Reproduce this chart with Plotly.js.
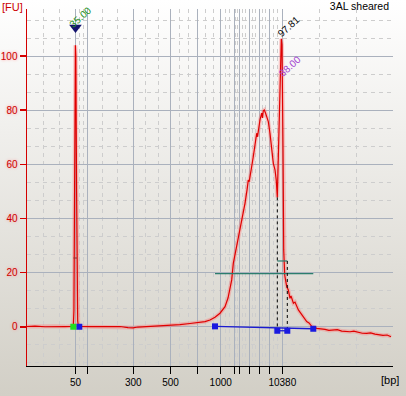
<!DOCTYPE html>
<html><head><meta charset="utf-8">
<script src="https://cdn.plot.ly/plotly-3.0.1.min.js"></script>
<style>
html,body{margin:0;padding:0;}
#chart{width:406px;height:396px;background:linear-gradient(#ffffff,#d2cfc6);}
</style></head><body><div id="chart"></div>
<script>
// Electropherogram signal: migration position (arbitrary time units) and fluorescence [FU]
const time = [0.00,2.19,4.92,7.65,10.38,12.30,12.65,12.82,12.98,13.11,13.22,13.35,13.55,13.70,13.76,13.85,14.00,14.21,
  17.21,19.95,22.68,25.41,27.60,28.96,30.33,33.61,36.34,39.07,41.80,44.54,47.27,48.63,50.00,51.37,52.73,54.10,54.92,
  55.46,55.93,56.37,56.83,57.30,57.73,58.20,58.93,59.29,59.56,60.11,60.46,60.70,60.93,61.39,61.83,62.30,62.76,62.98,
  63.20,63.66,64.13,64.34,64.56,64.84,65.16,65.49,65.93,66.39,66.86,67.30,67.76,68.10,68.39,68.60,68.93,69.13,69.32,
  69.48,69.67,69.86,69.95,70.14,70.41,70.96,71.40,71.86,72.13,72.79,73.22,74.15,74.59,75.05,75.68,76.42,77.05,77.79,
  79.15,80.30,81.42,82.50,83.69,84.80,85.98,87.10,88.25,89.30,90.44,91.60,92.81,93.90,95.08,96.20,97.27,98.40,99.45];
const fu = [0.1,0.2,0.0,0.15,0.05,0.1,0.3,6.0,47,78,104,100,50,10,5.8,2.2,0.5,0.1,
  0.05,0.1,0.0,0.1,-0.3,-0.4,-0.1,0.1,0.25,0.45,0.8,1.2,1.55,1.9,2.5,3.5,5.0,7.4,10.6,
  13.6,17.3,23.4,26.5,29.6,32.8,35.8,41.9,43.9,45.6,50.5,54.2,53.6,56.1,59.2,62.9,66.6,71.5,70.2,
  72.8,76.4,78.9,77.2,79.8,80.1,79.0,77.7,75.8,71.5,66.6,60.4,58.0,54.2,47.8,60.0,78.9,87.5,98.6,
  106.4,104.2,83.8,65.4,28.4,19.1,14.8,13.6,10.5,11.4,8.7,9.1,6.2,5.4,4.3,3.6,1.9,1.4,0.15,
  -0.6,-0.7,-1.0,-1.35,-1.2,-1.1,-1.6,-1.85,-1.85,-1.65,-2.1,-2.4,-2.45,-2.25,-2.7,-3.0,-3.2,-3.05,-3.7];

// bp ladder ticks
const tickPos = [13.25,16.45,29.04,39.21,46.64,52.92,56.64,58.01,60.74,63.47,66.20,69.75];
const tickLabels = ['50','','300','500','','1000','','','','','','10380'];

// Smear region and peak marks
const regionX = [51.37,78.22];
const regionY = [0.15,-0.74];
const peakMarkX = [68.39,71.12];
const peakMarkY = [-1.48,-1.48];
const peakTopY = [47.8,24.3];
const thresholdX = [51.37,78.22];
const thresholdY = [19.6,19.6];
const lowerMarkerX = [12.65,14.29];
const lowerMarkerY = [0,0];
const lowerHalfX = [12.70,13.66];
const lowerHalfY = [25.4,25.4];
const upperHalfX = [68.39,71.12];
const upperHalfY = [24.3,24.3];
const triangleX = [13.25];
const triangleY = [110.6];

const peakLabels = ['35.00','97.81','88.00'];
const peakLabelX = [14.48,71.5,71.67];
const peakLabelY = [114.2,110.9,96.3];
const peakLabelColors = ['#239023','#000000','#a040d0'];

// layout helpers (grid thirds between ticks)
const edges = [0].concat(tickPos, [100]);
const minorVals = [];
for (let i = 0; i < edges.length - 1; i++) {
  const d = (edges[i+1] - edges[i]) / 3;
  minorVals.push(edges[i] + d, edges[i] + 2*d);
}

const FONT = 'Liberation Sans, Arial, sans-serif';

const traces = [
  {x: time, y: fu, mode: 'lines', line: {color: 'rgba(255,110,110,0.35)', width: 4}, hoverinfo: 'skip'},
  {x: time, y: fu, mode: 'lines', line: {color: '#e00000', width: 1.2}, hoverinfo: 'skip'},
  {x: thresholdX, y: thresholdY, mode: 'lines', line: {color: '#2b7d6d', width: 1.2}},
  {x: lowerHalfX, y: lowerHalfY, mode: 'lines', line: {color: '#8a3030', width: 1}},
  {x: upperHalfX, y: upperHalfY, mode: 'lines', line: {color: '#2b7d6d', width: 1.2}},
  {x: [peakMarkX[0], peakMarkX[0], null, peakMarkX[1], peakMarkX[1]],
   y: [peakTopY[0], peakMarkY[0], null, peakTopY[1], peakMarkY[1]],
   mode: 'lines', line: {color: '#000000', width: 1, dash: '3px,3px'}},
  {x: regionX, y: regionY, mode: 'lines', line: {color: '#1a1ad0', width: 1.3}},
  {x: peakMarkX, y: peakMarkY, mode: 'lines', line: {color: '#1a1ad0', width: 1.3}},
  {x: regionX.concat(peakMarkX, [lowerMarkerX[1]]), y: regionY.concat(peakMarkY, [lowerMarkerY[1]]),
   mode: 'markers', marker: {symbol: 'square', size: 6, color: '#1a1ae0'}},
  {x: [lowerMarkerX[0]], y: [lowerMarkerY[0]], mode: 'markers', marker: {symbol: 'square', size: 6, color: '#22dd22'}},
  {x: triangleX, y: triangleY, mode: 'markers', marker: {symbol: 'triangle-down', size: 11, color: '#14146e'}}
];

const annotations = peakLabels.map((t, i) => ({
  x: peakLabelX[i], y: peakLabelY[i], xref: 'x', yref: 'y', text: t, showarrow: false,
  textangle: -42, font: {family: FONT, size: 10, color: peakLabelColors[i]}
}));
annotations.push({xref: 'paper', yref: 'paper', x: -27/366, y: 1 + 2/357, xanchor: 'left', yanchor: 'middle',
  text: '[FU]', showarrow: false, font: {family: FONT, size: 11, color: '#cc0000'}});
annotations.push({xref: 'paper', yref: 'paper', x: (401-27)/366, y: -14/357, xanchor: 'right', yanchor: 'middle',
  text: '[bp]', showarrow: false, font: {family: FONT, size: 11, color: '#000000'}});

const layout = {
  width: 406, height: 396,
  margin: {l: 27, r: 13, t: 9, b: 30},
  paper_bgcolor: 'rgba(0,0,0,0)', plot_bgcolor: 'rgba(0,0,0,0)',
  showlegend: false, hovermode: false,
  title: {text: '3AL sheared', xref: 'container', yref: 'container', x: 389/406, xanchor: 'right',
          y: 1 - 6/396, yanchor: 'middle', font: {family: FONT, size: 10.5, color: '#000'}},
  xaxis: {
    range: [0, 100], tickmode: 'array', tickvals: tickPos, ticktext: tickLabels,
    ticks: 'outside', ticklen: 7, tickcolor: '#000', tickwidth: 1,
    showline: true, linecolor: '#000', linewidth: 1, zeroline: false,
    showgrid: true, gridcolor: '#aab1bd', gridwidth: 1,
    tickfont: {family: FONT, size: 10, color: '#000'},
    minor: {tickmode: 'array', tickvals: minorVals, showgrid: true, gridcolor: '#cdcdcd', griddash: '4px,4px', ticks: ''},
    fixedrange: true
  },
  yaxis: {
    range: [-14.5, 117.4], tickmode: 'linear', tick0: 0, dtick: 20,
    ticks: 'outside', ticklen: 6, tickcolor: '#d40000', tickwidth: 1.5,
    showline: true, linecolor: '#d40000', linewidth: 1.5, zeroline: false,
    showgrid: true, gridcolor: '#aab1bd', gridwidth: 1,
    tickfont: {family: FONT, size: 10, color: '#cc0000', shadow: '0px 0px 3px #ff9090'},
    minor: {tickmode: 'linear', tick0: 0, dtick: 20/3, showgrid: true, gridcolor: '#cdcdcd', griddash: '4px,4px', ticks: ''},
    fixedrange: true
  },
  annotations: annotations
};

Plotly.newPlot('chart', traces, layout, {displayModeBar: false, staticPlot: true});
</script></body></html>
